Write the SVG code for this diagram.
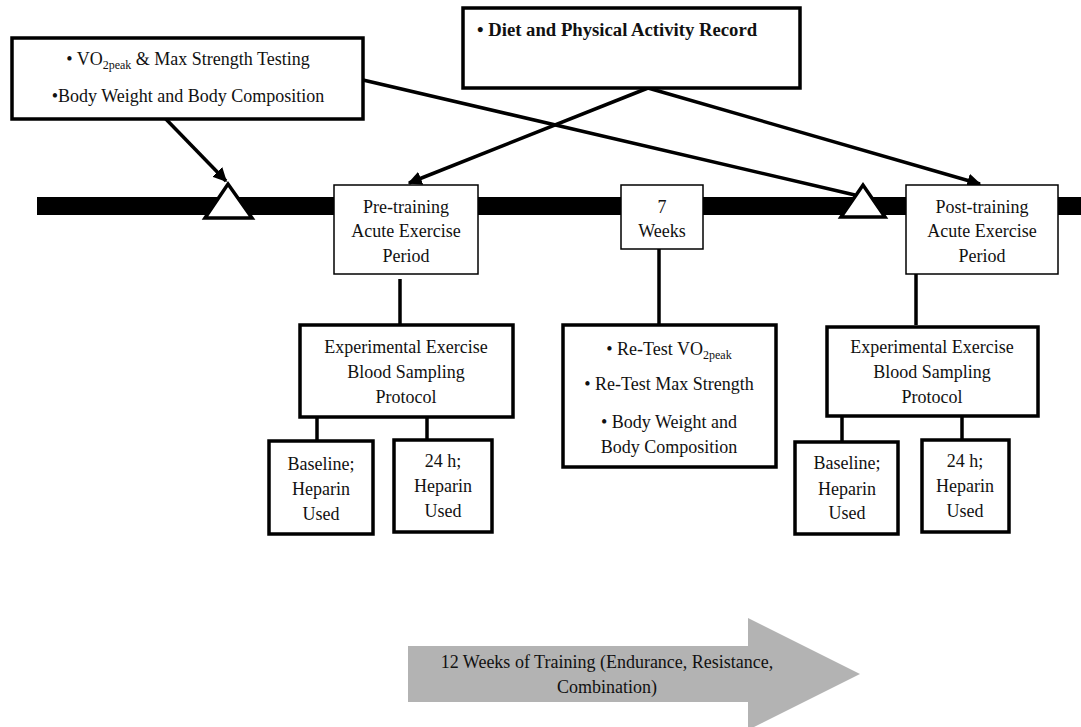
<svg xmlns="http://www.w3.org/2000/svg" width="1081" height="727" viewBox="0 0 1081 727">
<defs>
<style>
text{font-family:"Liberation Serif","Times New Roman",serif;font-size:18px;fill:#111;text-anchor:middle}
.b{font-weight:bold;text-anchor:start;font-size:18.7px}
.thin{fill:#fff;stroke:#000;stroke-width:1.5}
.thick{fill:#fff;stroke:#000;stroke-width:3.5}
.ln{stroke:#000;stroke-width:3.5;fill:none}
.tri{fill:#fff;stroke:#000;stroke-width:3.5;stroke-linejoin:miter}
</style>
<marker id="ah" viewBox="0 0 10 10" refX="9" refY="5" markerWidth="4" markerHeight="4" orient="auto" markerUnits="strokeWidth">
<path d="M0,0 L10,5 L0,10 z" fill="#000"/>
</marker>
</defs>
<rect width="1081" height="727" fill="#fff"/>
<g id="timeline">
<rect x="37" y="197" width="1044" height="18" fill="#000"/>
</g>
<g id="connectors">
<line class="ln" x1="363" y1="80" x2="855" y2="195"/>
<line class="ln" x1="160" y1="113" x2="226" y2="181" marker-end="url(#ah)"/>
<line class="ln" x1="648" y1="88" x2="409" y2="183" marker-end="url(#ah)"/>
<line class="ln" x1="648" y1="88" x2="980" y2="184" marker-end="url(#ah)"/>
<line class="ln" x1="400" y1="279" x2="400" y2="325"/>
<line class="ln" x1="317" y1="417" x2="317" y2="441"/>
<line class="ln" x1="427" y1="417" x2="427" y2="444"/>
<line class="ln" x1="659" y1="249" x2="659" y2="325"/>
<line class="ln" x1="916" y1="269" x2="916" y2="325"/>
<line class="ln" x1="842" y1="416" x2="842" y2="443"/>
<line class="ln" x1="962" y1="416" x2="962" y2="444"/>
</g>
<g id="triangle-left"><polygon class="tri" points="205,218 228,184 252,218"/></g>
<g id="triangle-right"><polygon class="tri" points="841,217 863,185 885,217"/></g>
<g id="box-baseline-tests">
<rect class="thick" x="12" y="38" width="351" height="81"/>
<text x="188" y="65">• VO<tspan font-size="12" dy="4">2peak</tspan><tspan dy="-4"> &amp; Max Strength Testing</tspan></text>
<text x="188" y="102">•Body Weight and Body Composition</text>
</g>
<g id="box-diet">
<rect class="thick" x="463" y="8" width="337" height="80"/>
<text class="b" x="477" y="36">•  Diet and Physical Activity Record</text>
</g>
<g id="box-pre">
<rect class="thin" x="334" y="185" width="144" height="89"/>
<text x="406" y="213">Pre-training</text>
<text x="406" y="237">Acute Exercise</text>
<text x="406" y="262">Period</text>
</g>
<g id="box-7weeks">
<rect class="thin" x="621" y="185" width="82" height="64"/>
<text x="662" y="213">7</text>
<text x="662" y="237">Weeks</text>
</g>
<g id="box-post">
<rect class="thin" x="906" y="185" width="152" height="89"/>
<text x="982" y="213">Post-training</text>
<text x="982" y="237">Acute Exercise</text>
<text x="982" y="262">Period</text>
</g>
<g id="box-exp-pre">
<rect class="thick" x="300" y="325" width="213" height="92"/>
<text x="406" y="353">Experimental Exercise</text>
<text x="406" y="378">Blood Sampling</text>
<text x="406" y="403">Protocol</text>
</g>
<g id="box-baseline-pre">
<rect class="thick" x="269" y="441" width="104" height="93"/>
<text x="321" y="470">Baseline;</text>
<text x="321" y="495">Heparin</text>
<text x="321" y="520">Used</text>
</g>
<g id="box-24h-pre">
<rect class="thick" x="394" y="440" width="98" height="92"/>
<text x="443" y="467">24 h;</text>
<text x="443" y="492">Heparin</text>
<text x="443" y="517">Used</text>
</g>
<g id="box-retest">
<rect class="thick" x="563" y="325" width="213" height="142"/>
<text x="669" y="355">• Re-Test VO<tspan font-size="12" dy="4">2peak</tspan></text>
<text x="669" y="390">• Re-Test Max Strength</text>
<text x="669" y="428">• Body Weight and</text>
<text x="669" y="453">Body Composition</text>
</g>
<g id="box-exp-post">
<rect class="thick" x="827" y="327" width="211" height="89"/>
<text x="932" y="353">Experimental Exercise</text>
<text x="932" y="378">Blood Sampling</text>
<text x="932" y="403">Protocol</text>
</g>
<g id="box-baseline-post">
<rect class="thick" x="795" y="442" width="103" height="92"/>
<text x="847" y="469">Baseline;</text>
<text x="847" y="495">Heparin</text>
<text x="847" y="519">Used</text>
</g>
<g id="box-24h-post">
<rect class="thick" x="922" y="440" width="87" height="92"/>
<text x="965" y="467">24 h;</text>
<text x="965" y="492">Heparin</text>
<text x="965" y="517">Used</text>
</g>
<g id="training-arrow">
<polygon points="408,646 748,646 748,618 860,674 748,730 748,702 408,702" fill="#b3b3b3"/>
<text x="607" y="668">12 Weeks of Training (Endurance, Resistance,</text>
<text x="607" y="693">Combination)</text>
</g>
</svg>
